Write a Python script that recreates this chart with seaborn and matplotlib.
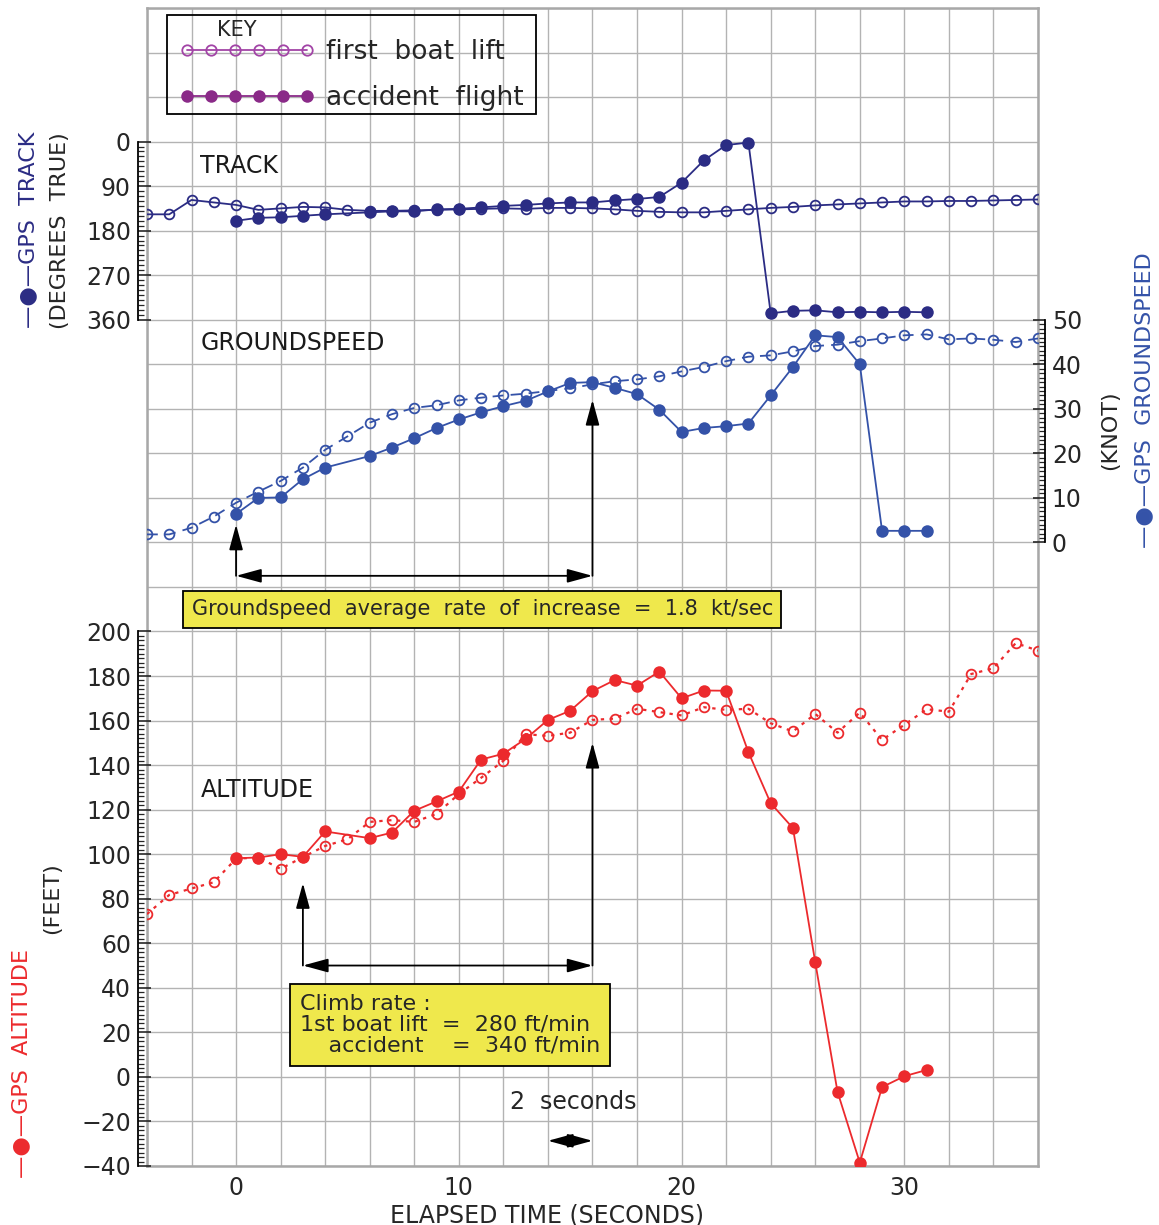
import matplotlib
matplotlib.use("Agg")
import matplotlib.pyplot as plt
import seaborn as sns
from matplotlib.lines import Line2D
from matplotlib.patches import Rectangle
from matplotlib.ticker import FixedLocator, MultipleLocator

sns.set_style("white")
plt.rcParams['font.family'] = ['DejaVu Sans']

# ---- data (elapsed time in seconds) ----
t_boat = [-4, -3, -2, -1, 0, 1, 2, 3, 4, 5, 6, 7, 8, 9, 10, 11, 12, 13, 14, 15, 16,
          17, 18, 19, 20, 21, 22, 23, 24, 25, 26, 27, 28, 29, 30, 31, 32, 33, 34, 35, 36]
t_acc = [0, 1, 2, 3, 4, 6, 7, 8, 9, 10, 11, 12, 13, 14, 15, 16, 17, 18, 19, 20,
         21, 22, 23, 24, 25, 26, 27, 28, 29, 30, 31]

# GPS track (degrees true)
track_boat = [147, 147, 118, 123, 128, 138, 135, 132, 133, 138, 140, 140, 139, 138, 137, 136,
              135, 136, 134, 134, 135, 137, 140, 142, 143, 143, 140, 137, 134, 132, 129, 127,
              125, 123, 121, 121, 120, 120, 119, 118, 117]
track_acc = [160, 154, 153, 150, 147, 143, 141, 141, 137, 136, 133, 130, 128, 125, 123, 123,
             119, 116, 112, 83, 38, 7, 2, 347, 342, 341, 345, 344, 345, 344, 345]

# GPS groundspeed (knot)
gs_boat = [1.8, 1.8, 3.3, 5.8, 8.9, 11.4, 13.8, 16.8, 20.8, 23.8, 26.9, 28.8, 30.2, 30.8, 31.9,
           32.5, 33.0, 33.4, 34.0, 34.6, 35.5, 36.2, 36.6, 37.3, 38.4, 39.4, 40.7, 41.7, 42.0,
           42.9, 44.1, 44.4, 45.2, 45.8, 46.5, 46.7, 45.6, 45.8, 45.5, 45.0, 45.8]
gs_acc = [6.4, 10.0, 10.1, 14.2, 16.8, 19.4, 21.3, 23.4, 25.7, 27.6, 29.2, 30.6, 31.8, 33.9,
          35.8, 36.0, 34.7, 33.3, 29.8, 24.8, 25.7, 26.1, 26.7, 33.0, 39.4, 46.5, 46.1, 40.0,
          2.6, 2.6, 2.6]

# GPS altitude (feet)
alt_boat = [73.1, 81.7, 84.6, 87.4, 98.0, 98.5, 93.4, 98.7, 103.7, 106.7, 114.5, 115.3, 114.5,
            118.1, 127.0, 134.3, 141.9, 153.9, 153.1, 154.6, 160.3, 160.9, 165.3, 163.8, 162.3,
            166.0, 164.8, 165.3, 158.8, 155.1, 163.0, 154.6, 163.6, 151.3, 158.1, 165.1, 164.0,
            180.9, 183.5, 194.8, 191.4]
alt_acc = [98.2, 98.5, 100.0, 98.8, 110.2, 107.2, 109.7, 119.5, 123.7, 128.1, 142.5, 145.1,
           151.8, 160.3, 164.4, 173.2, 178.2, 175.7, 182.0, 170.0, 173.5, 173.4, 145.8, 122.9,
           111.7, 51.5, -6.7, -38.5, -4.6, 0.3, 3.1]

c_trk = '#2b2c84'
c_gs = '#3452a8'
c_alt = '#ec2a2d'
c_grid = '#b3b3b3'
c_yel = '#efe84c'

fig = plt.figure(figsize=(11.59, 12.25), dpi=100)
ax = fig.add_axes([0.1268, 0.0482, 0.7688, 0.9453])
ax.set_xlim(-4, 36)
ax.set_ylim(-40, 480)

# grid / frame
ax.set_xticks([0, 10, 20, 30])
ax.xaxis.set_minor_locator(MultipleLocator(2))
ax.yaxis.set_major_locator(MultipleLocator(20))
ax.grid(True, which='both', color=c_grid, lw=1.0)
ax.tick_params(axis='x', which='both', length=0, labelsize=17, pad=7)
ax.tick_params(axis='y', which='both', length=0, labelleft=False, labelright=False)
for s in ax.spines.values():
    s.set_color('#a8a8a8')
    s.set_linewidth(1.8)
ax.set_xlabel('ELAPSED TIME (SECONDS)', fontsize=17)
ax.xaxis.set_label_coords(0.449, -0.032)


def ruler(side, lo, hi, major, minor, off):
    a = ax.twinx()
    for k, s in a.spines.items():
        s.set_visible(k == side)
    sp = a.spines[side]
    sp.set_position(('outward', off))
    sp.set_bounds(lo, hi)
    sp.set_color('black')
    sp.set_linewidth(1.3)
    if side == 'left':
        a.yaxis.set_ticks_position('left')
    a.yaxis.set_major_locator(FixedLocator(major))
    a.yaxis.set_minor_locator(FixedLocator(minor))
    a.tick_params(axis='y', which='major', direction='in', length=9, width=1.2,
                  labelsize=17, pad=5)
    a.tick_params(axis='y', which='minor', direction='in', length=4, width=0.9)
    return a


# altitude ruler (-40..200 ft) in the same scale as the base axes
ax_alt = ruler('left', -40, 200, list(range(-40, 201, 20)), list(range(-40, 201, 2)), 6.5)
ax_alt.set_ylim(-40, 480)

# track ruler (0 at top, 360 at bottom)
ax_trk = ruler('left', 0, 360, [0, 90, 180, 270, 360], list(range(0, 361, 10)), 6.5)
ax_trk.set_ylim(2070, -270)

# groundspeed ruler on the right
ax_gs = ruler('right', 0, 50, list(range(0, 51, 10)), list(range(0, 51, 1)), 5)
ax_gs.set_ylim(-140, 120)

# ---- series ----
lw = 1.3
sns.lineplot(x=t_boat, y=track_boat, ax=ax_trk, color=c_trk, lw=lw, marker='o', markersize=7,
             markerfacecolor='none', markeredgecolor=c_trk, markeredgewidth=1.3)
sns.lineplot(x=t_acc, y=track_acc, ax=ax_trk, color=c_trk, lw=lw, marker='o', markersize=9,
             markerfacecolor=c_trk, markeredgecolor=c_trk, markeredgewidth=0)

sns.lineplot(x=t_boat, y=gs_boat, ax=ax_gs, color=c_gs, lw=lw, linestyle=(0, (6, 4)),
             marker='o', markersize=7, markerfacecolor='none', markeredgecolor=c_gs,
             markeredgewidth=1.3)
sns.lineplot(x=t_acc, y=gs_acc, ax=ax_gs, color=c_gs, lw=lw, marker='o', markersize=9,
             markerfacecolor=c_gs, markeredgecolor=c_gs, markeredgewidth=0)

sns.lineplot(x=t_boat, y=alt_boat, ax=ax_alt, color=c_alt, lw=lw + 0.3, linestyle=(0, (1.5, 2.5)),
             marker='o', markersize=7, markerfacecolor='none', markeredgecolor=c_alt,
             markeredgewidth=1.3)
sns.lineplot(x=t_acc, y=alt_acc, ax=ax_alt, color=c_alt, lw=lw, marker='o', markersize=9,
             markerfacecolor=c_alt, markeredgecolor=c_alt, markeredgewidth=0)

for a in (ax_alt, ax_trk, ax_gs):
    a.set_xlim(-4, 36)
    a.set_ylabel('')

# ---- section titles ----
ax.text(-1.6, 409, 'TRACK', fontsize=17, va='center', color='#1a1a1a')
ax.text(-1.6, 329.5, 'GROUNDSPEED', fontsize=17, va='center', color='#1a1a1a')
ax.text(-1.6, 129, 'ALTITUDE', fontsize=17, va='center', color='#1a1a1a')

# ---- arrows and boxes ----
head = dict(color='black', lw=1.3, shrinkA=0, shrinkB=0, mutation_scale=14)
up = dict(arrowstyle='-|>,head_length=1.1,head_width=0.3', **head)
both = dict(arrowstyle='<|-|>,head_length=1.1,head_width=0.3', **head)

ax_gs.annotate('', xy=(0, 4), xytext=(0, -7.5), arrowprops=up)
ax_gs.annotate('', xy=(16, 32), xytext=(16, -7.5), arrowprops=up)
ax_gs.annotate('', xy=(0, -7.5), xytext=(16, -7.5), arrowprops=both)
ax.text(11.05, 210, 'Groundspeed  average  rate  of  increase  =  1.8  kt/sec', fontsize=15,
        ha='center', va='center',
        bbox=dict(boxstyle='square,pad=0.4', fc=c_yel, ec='black', lw=1.3))

ax.annotate('', xy=(3, 87), xytext=(3, 50), arrowprops=up)
ax.annotate('', xy=(16, 150), xytext=(16, 50), arrowprops=up)
ax.annotate('', xy=(3, 50), xytext=(16, 50), arrowprops=both)
ax.text(2.87, 23.3, 'Climb rate :\n1st boat lift  =  280 ft/min\n    accident    =  340 ft/min',
        fontsize=16, ha='left', va='center', linespacing=1.04,
        bbox=dict(boxstyle='square,pad=0.45', fc=c_yel, ec='black', lw=1.3))

ax.annotate('', xy=(14, -28.7), xytext=(16, -28.7), arrowprops=both)
ax.text(15.15, -11.5, '2  seconds', fontsize=17, ha='center', va='center')

# ---- key ----
h_boat = Line2D([], [], color='#a244a6', lw=1.3, marker='o', markersize=7.5,
                markerfacecolor='none', markeredgecolor='#a244a6', markeredgewidth=1.3)
h_acc = Line2D([], [], color='#8a2a88', lw=1.3, marker='o', markersize=9,
               markerfacecolor='#8a2a88', markeredgewidth=0)
leg = ax.legend([h_boat, h_acc], ['first  boat  lift', 'accident  flight'],
                loc='center left', bbox_to_anchor=(0.0356, 0.942), borderaxespad=0,
                numpoints=6, handlelength=5.15, handletextpad=0.45, fontsize=19,
                frameon=False, labelspacing=0.75, borderpad=0)
ax.add_patch(Rectangle((0.0224, 0.9085), 0.414, 0.0855, transform=ax.transAxes,
                       fill=False, ec='black', lw=1.3, clip_on=False, zorder=5))
ax.text(0.101, 0.981, 'KEY', transform=ax.transAxes, fontsize=15, ha='center', va='center')

# ---- axis titles ----
fig.text(0.024, 0.812, '\u2014\u25cf\u2014GPS  TRACK', color=c_trk, fontsize=16,
         rotation=90, ha='center', va='center')
fig.text(0.052, 0.812, '(DEGREES  TRUE)', fontsize=16, rotation=90, ha='center', va='center')
fig.text(0.958, 0.649, '(KNOT)', fontsize=16, rotation=90, ha='center', va='center')
fig.text(0.987, 0.673, '\u2014\u25cf\u2014GPS  GROUNDSPEED', color=c_gs, fontsize=16,
         rotation=90, ha='center', va='center')
fig.text(0.018, 0.132, '\u2014\u25cf\u2014GPS  ALTITUDE', color=c_alt, fontsize=16,
         rotation=90, ha='center', va='center')
fig.text(0.045, 0.267, '(FEET)', fontsize=16, rotation=90, ha='center', va='center')

fig.savefig('out.png', dpi=100)
